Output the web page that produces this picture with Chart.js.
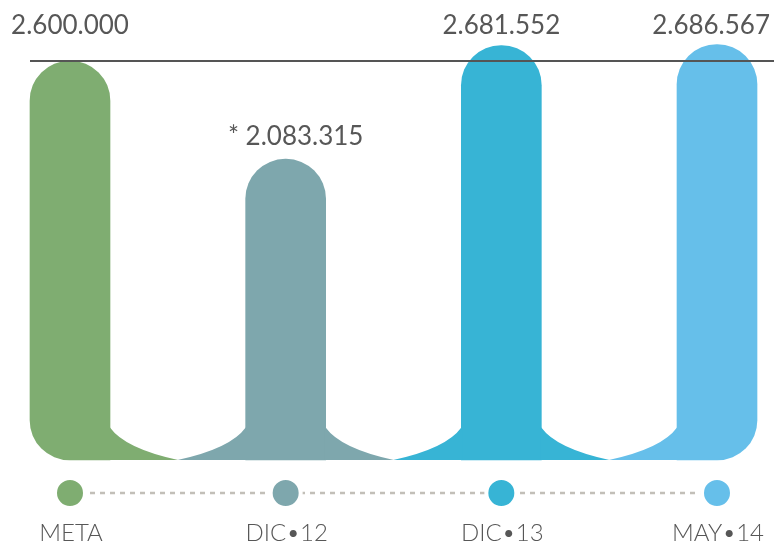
<!DOCTYPE html>
<html>
<head>
<meta charset="utf-8">
<script src="https://cdn.jsdelivr.net/npm/chart.js@4.4.1/dist/chart.umd.min.js"></script>
<style>
  html, body { margin: 0; padding: 0; background: #ffffff; }
  #wrap { width: 774px; height: 543px; position: relative; }
  canvas { display: block; }
</style>
</head>
<body>
<div id="wrap"><canvas id="c" width="774" height="543"></canvas></div>
<script>
// ---- data ----
const categories = ['META', 'DIC\u202212', 'DIC\u202213', 'MAY\u202214'];
const values = [2600000, 2083315, 2681552, 2686567];
const notes = ['', '* ', '', ''];
const metaValue = 2600000;
const baseValue = 500000;
const dotValues = [0, 0, 0, 0];
const colors = ['#7FAD71', '#7EA7AD', '#37B4D5', '#66BFEA'];

function fmt(v) {
  return String(v).replace(/\B(?=(\d{3})+(?!\d))/g, '.');
}

const TEXT = '#575757';

const decor = {
  id: 'decor',
  afterDatasetsDraw(chart) {
    const ctx = chart.ctx;
    const meta = chart.getDatasetMeta(0);
    const ys = chart.scales.y;
    const bars = meta.data;
    const base = bars[0].base;
    ctx.save();
    // flared bases between neighbouring bars
    for (let i = 0; i < bars.length - 1; i++) {
      const a = bars[i], b = bars[i + 1];
      const xr = a.x + a.width / 2;
      const xl = b.x - b.width / 2;
      const cx = (xr + xl) / 2;
      const yTop = base - 32.5;
      ctx.beginPath();
      ctx.moveTo(xr - 1, yTop);
      ctx.lineTo(xr, yTop);
      ctx.quadraticCurveTo(xr + 15, base - 11.5, cx + 0.3, base);
      ctx.lineTo(xr - 1, base);
      ctx.closePath();
      ctx.fillStyle = colors[i];
      ctx.fill();
      ctx.beginPath();
      ctx.moveTo(cx - 0.3, base);
      ctx.quadraticCurveTo(xl - 15, base - 11.5, xl, yTop);
      ctx.lineTo(xl + 1, yTop);
      ctx.lineTo(xl + 1, base);
      ctx.closePath();
      ctx.fillStyle = colors[i + 1];
      ctx.fill();
    }
    // target line at META value
    const ly = Math.round(ys.getPixelForValue(metaValue));
    ctx.beginPath();
    ctx.strokeStyle = '#555555';
    ctx.lineWidth = 2;
    ctx.moveTo(bars[0].x - bars[0].width / 2, ly);
    ctx.lineTo(chart.width, ly);
    ctx.stroke();
    // value labels
    ctx.font = '26px Lato, "Open Sans", sans-serif';
    ctx.fillStyle = TEXT;
    ctx.textAlign = 'center';
    ctx.textBaseline = 'middle';
    for (let i = 0; i < bars.length; i++) {
      const t = notes[i] + fmt(values[i]);
      const w = ctx.measureText(t).width;
      let x = bars[i].x + (notes[i] ? 10 : 0);
      x = Math.min(x, chart.width - 4 - w / 2);
      const ty = values[i] >= metaValue ? ly - 35 : bars[i].y - 23;
      ctx.fillText(t, x, ty);
    }
    // category labels
    ctx.font = '300 24px Lato, "Open Sans", sans-serif';
    ctx.textBaseline = 'alphabetic';
    for (let i = 0; i < bars.length; i++) {
      ctx.fillText(categories[i], bars[i].x + 1, 541);
    }
    ctx.restore();
  }
};

new Chart(document.getElementById('c'), {
  type: 'bar',
  data: {
    labels: categories,
    datasets: [
      {
        type: 'bar',
        data: values,
        base: baseValue,
        backgroundColor: colors,
        barThickness: 80,
        borderSkipped: false,
        borderWidth: 0,
        borderRadius: (c) => ({
          topLeft: 40,
          topRight: 40,
          bottomLeft: c.dataIndex === 0 ? 40 : 0,
          bottomRight: c.dataIndex === values.length - 1 ? 40 : 0
        }),
        clip: false,
        order: 1
      },
      {
        type: 'line',
        data: dotValues,
        yAxisID: 'yDots',
        borderColor: '#C2BFB8',
        borderWidth: 2.5,
        borderDash: [5, 5],
        pointRadius: 15,
        pointBorderWidth: 4,
        pointBorderColor: '#ffffff',
        pointBackgroundColor: colors,
        pointHoverRadius: 15,
        clip: false,
        order: 0
      }
    ]
  },
  options: {
    responsive: false,
    animation: false,
    events: [],
    layout: { autoPadding: false, padding: { left: 70, right: 57, top: 0, bottom: 63 } },
    plugins: { legend: { display: false }, tooltip: { enabled: false }, title: { display: false } },
    scales: {
      x: { display: false, offset: false },
      y: { display: false, min: 394700, max: 2921000 },
      yDots: { display: false, min: 13, max: 493 }
    }
  },
  plugins: [decor]
});
</script>
</body>
</html>
